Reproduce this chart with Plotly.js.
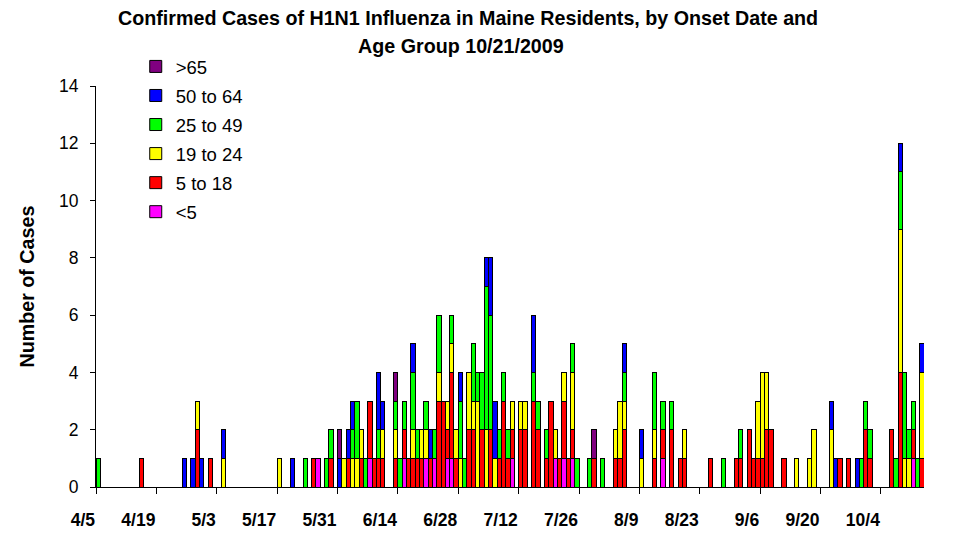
<!DOCTYPE html>
<html>
<head>
<meta charset="utf-8">
<script src="https://cdn.plot.ly/plotly-3.0.1.min.js"></script>
<style>html,body{margin:0;padding:0;background:#fff;}#chart{width:954px;height:538px;}</style>
</head>
<body>
<div id="chart"></div>
<script>
// Onset dates that have at least one case
const onsetDates = [
 '2009-04-05','2009-04-15','2009-04-25','2009-04-27','2009-04-28','2009-04-29','2009-05-01','2009-05-04','2009-05-17','2009-05-20',
 '2009-05-23','2009-05-25','2009-05-26','2009-05-28','2009-05-29','2009-05-31','2009-06-01','2009-06-02','2009-06-03','2009-06-04',
 '2009-06-05','2009-06-06','2009-06-07','2009-06-08','2009-06-09','2009-06-10','2009-06-13','2009-06-14','2009-06-15','2009-06-16',
 '2009-06-17','2009-06-18','2009-06-19','2009-06-20','2009-06-21','2009-06-22','2009-06-23','2009-06-24','2009-06-25','2009-06-26',
 '2009-06-27','2009-06-28','2009-06-29','2009-06-30','2009-07-01','2009-07-02','2009-07-03','2009-07-04','2009-07-05','2009-07-06',
 '2009-07-07','2009-07-08','2009-07-09','2009-07-10','2009-07-12','2009-07-13','2009-07-15','2009-07-16','2009-07-18','2009-07-19',
 '2009-07-20','2009-07-21','2009-07-22','2009-07-23','2009-07-24','2009-07-25','2009-07-28','2009-07-29','2009-07-31','2009-08-03',
 '2009-08-04','2009-08-05','2009-08-09','2009-08-12','2009-08-14','2009-08-16','2009-08-18','2009-08-19','2009-08-25','2009-08-28',
 '2009-08-31','2009-09-01','2009-09-03','2009-09-04','2009-09-05','2009-09-06','2009-09-07','2009-09-08','2009-09-11','2009-09-14',
 '2009-09-17','2009-09-18','2009-09-22','2009-09-23','2009-09-24','2009-09-26','2009-09-28','2009-09-29','2009-09-30','2009-10-01',
 '2009-10-06','2009-10-07','2009-10-08','2009-10-09','2009-10-10','2009-10-11','2009-10-12','2009-10-13'
];

const ageUnder5 = [
 0,0,0,0,0,0,0,0,0,0,
 0,0,1,0,0,0,0,0,0,0,
 0,0,1,0,0,0,0,0,1,0,
 0,0,0,1,0,1,0,0,1,1,
 0,0,0,0,0,0,0,0,0,0,
 0,0,0,1,0,0,0,0,0,0,
 1,0,1,0,1,0,0,0,0,0,
 0,0,0,0,1,0,0,0,0,0,
 0,0,0,0,0,0,0,0,0,0,
 0,0,0,0,0,0,0,0,0,0,
 0,0,0,0,0,1,0,0
];
const age5to18 = [
 0,1,0,0,2,0,1,0,0,0,
 0,1,0,0,1,0,0,1,0,0,
 1,0,2,1,1,1,1,0,1,1,
 1,1,1,0,1,0,3,3,1,3,
 1,0,0,2,2,0,2,0,2,0,
 1,3,1,1,2,2,3,2,1,3,
 0,1,2,1,1,0,0,1,0,1,
 1,2,0,1,1,2,1,1,1,0,
 1,1,2,1,1,1,2,2,1,0,
 0,0,0,0,1,1,0,0,2,1,
 2,0,4,0,0,1,0,1
];
const age19to24 = [
 0,0,0,0,1,0,0,1,1,0,
 0,0,0,0,0,0,1,0,1,1,
 1,0,0,0,0,1,1,0,0,0,
 1,0,1,1,0,0,1,0,1,1,
 1,1,0,2,1,3,0,2,0,1,
 0,0,0,1,1,1,0,0,0,0,
 1,0,1,0,2,0,0,0,0,1,
 2,1,1,1,0,0,0,1,0,0,
 0,0,0,0,2,3,2,0,0,1,
 1,2,2,0,0,0,0,0,0,0,
 0,0,5,1,1,0,0,3
];
const age25to49 = [
 1,0,0,0,0,0,0,0,0,0,
 1,0,0,1,1,0,0,0,1,2,
 0,1,0,0,1,0,1,1,1,0,
 2,1,0,1,0,1,2,0,0,1,
 0,2,1,0,2,1,2,5,4,0,
 1,1,1,0,0,0,1,1,1,0,
 0,0,0,0,1,1,1,0,1,0,
 0,1,0,2,1,1,0,0,0,1,
 0,1,0,0,0,0,0,0,0,0,
 0,0,0,0,0,0,0,1,1,1,
 0,1,2,3,1,1,1,0
];
const age50to64 = [
 0,0,1,1,0,1,0,1,0,1,
 0,0,0,0,0,1,0,1,1,0,
 0,0,0,0,2,1,0,0,0,0,
 1,0,0,0,1,0,0,0,0,0,
 0,1,0,0,0,0,0,1,2,2,
 0,0,0,0,0,0,2,0,0,0,
 0,0,0,0,0,0,0,0,0,0,
 0,1,1,0,0,0,0,0,0,0,
 0,0,0,0,0,0,0,0,0,0,
 0,0,1,1,0,0,1,0,0,0,
 0,0,1,0,0,0,0,1
];
const ageOver65 = [
 0,0,0,0,0,0,0,0,0,0,
 0,0,0,0,0,1,0,0,0,0,
 0,0,0,0,0,0,1,0,0,0,
 0,0,0,0,0,0,0,0,0,0,
 0,0,0,0,0,0,0,0,0,0,
 0,0,0,0,0,0,0,0,0,0,
 0,0,0,0,0,0,0,1,0,0,
 0,0,0,0,0,0,0,0,0,0,
 0,0,0,0,0,0,0,0,0,0,
 0,0,0,0,0,0,0,0,0,0,
 0,0,0,0,0,0,0,0
];

const groupNames = ['<5', '5 to 18', '19 to 24', '25 to 49', '50 to 64', '>65'];
const groupValues = [ageUnder5, age5to18, age19to24, age25to49, age50to64, ageOver65];
const groupColors = ['#FF00FF', '#FF0000', '#FFFF00', '#00FF00', '#0000FF', '#800080'];

const tickDates = ['2009-04-05','2009-04-19','2009-05-03','2009-05-17','2009-05-31','2009-06-14','2009-06-28',
                   '2009-07-12','2009-07-26','2009-08-09','2009-08-23','2009-09-06','2009-09-20','2009-10-04'];
const tickLabels = ['4/5','4/19','5/3','5/17','5/31','6/14','6/28','7/12','7/26','8/9','8/23','9/6','9/20','10/4'];

const DAY = 86400000;
const FONT = 'Arial, "Liberation Sans", sans-serif';

const traces = groupNames.map((name, i) => ({
  type: 'bar',
  name: name,
  x: onsetDates,
  y: groupValues[i],
  xperiod: DAY,
  xperiodalignment: 'middle',
  width: DAY,
  legendgroup: 'g' + i,
  legendrank: 1000 - i,
  marker: { color: groupColors[i], line: { color: '#000000', width: 1 } },
  hoverinfo: 'x+y+name'
}));

const layout = {
  width: 954, height: 538,
  margin: { l: 96, r: 30, t: 86, b: 51 },
  paper_bgcolor: '#ffffff', plot_bgcolor: '#ffffff',
  barmode: 'stack', bargap: 0,
  font: { family: FONT, color: '#000000' },
  showlegend: true,
  legend: {
    x: 0.048, y: 1.095, xanchor: 'left', yanchor: 'top',
    traceorder: 'grouped', tracegroupgap: 2,
    bgcolor: 'rgba(0,0,0,0)',
    font: { family: FONT, size: 18.5, color: '#000000' }
  },
  xaxis: {
    type: 'date',
    range: ['2009-04-05', '2009-10-14'],
    tickmode: 'array', tickvals: tickDates, ticktext: tickLabels,
    ticks: 'outside', ticklen: 6, tickcolor: '#000000', tickwidth: 1,
    ticklabelposition: 'outside left',
    ticklabelstandoff: 17,
    tickfont: { family: FONT, size: 17.5, weight: 'bold', color: '#000000' },
    showline: true, linecolor: '#000000', linewidth: 1,
    showgrid: false, zeroline: false, fixedrange: true
  },
  yaxis: {
    range: [0, 14], dtick: 2, tick0: 0,
    ticks: 'outside', ticklen: 5, tickcolor: '#000000', tickwidth: 1,
    ticklabelstandoff: 8,
    tickfont: { family: FONT, size: 17.5, color: '#000000' },
    showline: true, linecolor: '#000000', linewidth: 1,
    showgrid: false, zeroline: false, fixedrange: true
  },
  annotations: [
    { text: '<b>Confirmed Cases of H1N1 Influenza in Maine Residents, by Onset Date and</b>',
      xref: 'paper', yref: 'paper', x: 0.449, y: 1.17, xanchor: 'center', yanchor: 'middle',
      showarrow: false, font: { family: FONT, size: 19.7, color: '#000000' } },
    { text: '<b>Age Group 10/21/2009</b>',
      xref: 'paper', yref: 'paper', x: 0.441, y: 1.099, xanchor: 'center', yanchor: 'middle',
      showarrow: false, font: { family: FONT, size: 19.7, color: '#000000' } },
    { text: '<b>Number of Cases</b>',
      xref: 'paper', yref: 'paper', x: -0.0845, y: 0.5, xanchor: 'center', yanchor: 'middle',
      textangle: -90, showarrow: false, font: { family: FONT, size: 19.7, color: '#000000' } }
  ]
};

Plotly.newPlot('chart', traces, layout, { displayModeBar: false, staticPlot: true });
</script>
</body>
</html>
